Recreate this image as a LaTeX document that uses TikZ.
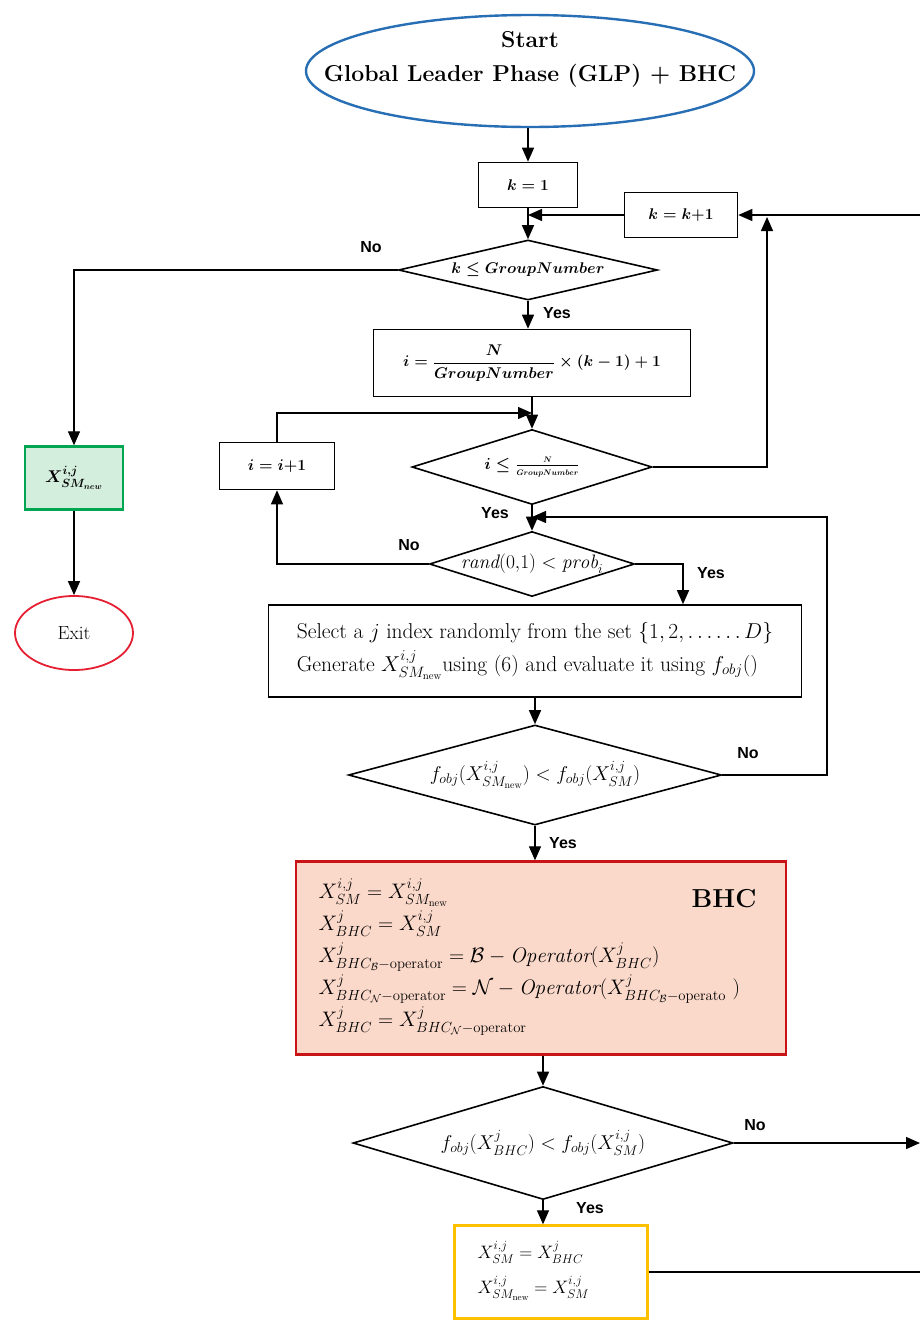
\RequirePackage{fix-cm}
\documentclass[tikz,border=0pt]{standalone}
\usepackage{amsmath}
\usepackage{fontspec}
\newfontfamily\lblfont{Liberation Sans}
\usetikzlibrary{shapes.geometric,arrows.meta,calc}
\definecolor{startblue}{RGB}{40,110,180}
\definecolor{gfill}{RGB}{212,238,222}
\definecolor{gbord}{RGB}{0,166,81}
\definecolor{exitred}{RGB}{230,30,50}
\definecolor{bhcfill}{RGB}{250,217,202}
\definecolor{bhcbord}{RGB}{200,20,20}
\definecolor{ybord}{RGB}{255,192,0}
\tikzset{
  conn/.style={-{Triangle[length=14pt,width=12pt]}},
  procbox/.style={draw, line width=1.6pt, inner sep=2pt, align=center, font=\fontsize{15.5}{19}\selectfont},
  decbox/.style={draw, diamond, line width=1.6pt, inner sep=0pt, align=center, font=\fontsize{20}{24}\selectfont},
  yn/.style={font=\lblfont\bfseries\fontsize{16}{18}\selectfont, inner sep=0pt}
}
\begin{document}
\begin{tikzpicture}[x=1pt,y=-1pt, line width=1.3pt]
\useasboundingbox (0,0) rectangle (920,1320);

% start
\node[draw=startblue, line width=2.4pt, ellipse, minimum width=448pt, minimum height=112pt] (start) at (530,71) {};
\node[font=\bfseries\fontsize{23}{34}\selectfont, align=center] (starttxt) at (530,59) {Start\\Global Leader Phase (GLP) + BHC};

% main column
\node[procbox, minimum width=99pt, minimum height=45pt] (k1) at (528,185) {$\boldsymbol{k = 1}$};
\node[procbox, minimum width=113pt, minimum height=45pt] (kp) at (681,215) {$\boldsymbol{k = k{+}1}$};
\node[decbox, font=\fontsize{15.5}{19}\selectfont, minimum width=259pt, minimum height=60pt, aspect=4.3] (kdia) at (528,270) {$\boldsymbol{k \le GroupNumber}$};
\node[procbox, minimum width=317pt, minimum height=67pt] (ibox) at (532,363) {$\boldsymbol{i = \dfrac{N}{GroupNumber} \times (k-1) + 1}$};
\node[procbox, minimum width=115pt, minimum height=47pt] (ii) at (277,466) {$\boldsymbol{i = i{+}1}$};
\node[decbox, font=\fontsize{16}{19}\selectfont, minimum width=240pt, minimum height=75pt, aspect=3.2] (idia) at (532,467) {$\boldsymbol{i \le \frac{\scriptscriptstyle N}{\scriptscriptstyle GroupNumber}}$};
\node[decbox, font=\fontsize{19.5}{23}\selectfont, minimum width=205pt, minimum height=65pt, aspect=3.15, inner xsep=-16pt, inner ysep=-2pt] (rand) at (532,564) {$\mathit{rand}(0{,}1) < \mathit{prob}_i$};
\node[procbox, minimum width=533pt, minimum height=92pt, align=left, font=\fontsize{21.5}{33}\selectfont] (sel) at (535,651) {Select a $j$ index randomly from the set $\{1,2, \ldots\ldots D\}$\\Generate $X^{i,j}_{SM_{\mathrm{new}}}$using (6) and evaluate it using $f_{obj}()$};
\node[decbox, minimum width=373pt, minimum height=100pt, aspect=3.7] (fdia) at (535,775) {$f_{obj}(X^{i,j}_{SM_{\mathrm{new}}}) < f_{obj}(X^{i,j}_{SM})$};

% BHC block
\node[draw=bhcbord, fill=bhcfill, line width=2.4pt, minimum width=490pt, minimum height=193pt] (bhc) at (541,958) {};
\node[anchor=west, align=left, font=\fontsize{21}{32}\selectfont, inner sep=0pt] (bhctxt) at (318,957) {$X^{i,j}_{SM} = X^{i,j}_{SM_{\mathrm{new}}}$\\
$X^{j}_{BHC} = X^{i,j}_{SM}$\\
$X^{j}_{BHC_{\mathcal{B}}-\mathrm{operator}} = \mathcal{B} - \mathit{Operator}(X^{j}_{BHC})$\\
$X^{j}_{BHC_{\mathcal{N}}-\mathrm{operator}} = \mathcal{N} - \mathit{Operator}(X^{j}_{BHC_{\mathcal{B}}-\mathrm{operato}}\ )$\\
$X^{j}_{BHC} = X^{j}_{BHC_{\mathcal{N}}-\mathrm{operator}}$};
\node[font=\bfseries\fontsize{26}{30}\selectfont] (bhclbl) at (724,899) {BHC};

\node[decbox, minimum width=380pt, minimum height=113pt, aspect=3.4] (fdia2) at (543,1143) {$f_{obj}(X^{j}_{BHC}) < f_{obj}(X^{i,j}_{SM})$};
\node[draw=ybord, line width=2.4pt, minimum width=193pt, minimum height=93pt] (ybox) at (551,1272) {};
\node[anchor=west, align=left, font=\fontsize{18}{35}\selectfont, inner sep=0pt] (ytxt) at (477,1271) {$X^{i,j}_{SM} = X^{j}_{BHC}$\\$X^{i,j}_{SM_{\mathrm{new}}} = X^{i,j}_{SM}$};

% left branch
\node[draw=gbord, fill=gfill, line width=2.4pt, minimum width=98pt, minimum height=63pt, font=\fontsize{17}{20}\selectfont] (green) at (74,478) {$\boldsymbol{X^{i,j}_{SM_{new}}}$};
\node[draw=exitred, line width=1.8pt, ellipse, minimum width=118pt, minimum height=74pt, inner sep=0pt, font=\fontsize{19}{22}\selectfont] (exit) at (74,633) {Exit};

% labels
\node[yn] (no1) at (371,247) {No};
\node[yn] (yes1) at (557,313) {Yes};
\node[yn] (yes2) at (495,513) {Yes};
\node[yn] (no2) at (409,545) {No};
\node[yn] (yes3) at (711,573) {Yes};
\node[yn] (no3) at (748,753) {No};
\node[yn] (yes4) at (563,843) {Yes};
\node[yn] (no4) at (755,1125) {No};
\node[yn] (yes5) at (590,1208) {Yes};

% helper coordinates
\coordinate (j1) at (kdia.north |- kp.west);
\coordinate (j2) at (532,413);
\coordinate (j3) at (532,517);
\coordinate (rk) at (767,217);
\coordinate (c2) at (827,517);
\coordinate (e1) at (920,215);
\coordinate (e2) at (920,1143);
\coordinate (e3) at (920,1272);

% connectors
\draw[conn] (k1.north |- start.south) -- (k1.north);
\draw[conn] (k1.south) -- (kdia.north);
\draw[conn] (kp.west) -- (j1);
\draw[conn] (e1) -- (kp.east);
\draw[conn] (idia.east) -| (rk);
\draw[conn] (kdia.west) -| (green.north);
\draw[conn] (green.south) -- (exit.north);
\draw[conn] (kdia.south) -- (kdia.south |- ibox.north);
\draw[conn] (ibox.south) -- (idia.north);
\draw[conn] (ii.north) |- (j2);
\draw[conn] (idia.south) -- (rand.north);
\draw[conn] (rand.west) -| (ii.south);
\draw[conn] (rand.east) -| ([xshift=148pt]sel.north);
\draw[conn] (sel.south) -- (fdia.north);
\draw[conn] (fdia.east) -| (c2) -- (j3);
\draw[conn] (fdia.south) -- (fdia.south |- bhc.north);
\draw[conn] (bhc.south -| fdia2.north) -- (fdia2.north);
\draw[conn] (fdia2.east) -- (e2);
\draw[conn] (fdia2.south) -- (fdia2.south |- ybox.north);
\draw (ybox.east) -- (e3);
\end{tikzpicture}
\end{document}
